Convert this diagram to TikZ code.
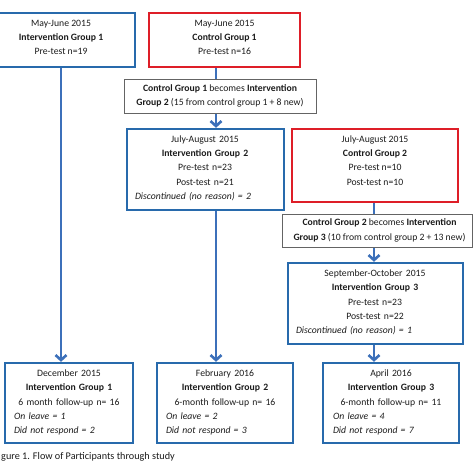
\documentclass[tikz,border=0pt]{standalone}
\usepackage{fontspec}
\setmainfont{Carlito}
\usetikzlibrary{arrows.meta}
\definecolor{bbox}{RGB}{40,106,172}
\definecolor{bline}{RGB}{60,112,186}
\definecolor{rbox}{RGB}{222,30,40}
\definecolor{gbox}{RGB}{100,100,100}
\definecolor{ink}{RGB}{28,28,28}
\newcommand{\lft}[1]{\makebox[\hsize][l]{\itshape #1}}
\begin{document}
\begin{tikzpicture}[x=1pt,y=-1pt,
  box/.style={rectangle, inner sep=0pt, fill=white},
  bluebox/.style={box, draw=bbox, line width=2.4pt},
  redbox/.style={box, draw=rbox, line width=2pt},
  graybox/.style={box, draw=gbox, line width=1pt},
  txt/.style={inner sep=0pt, align=center, text=ink, font=\fontsize{9.7}{14.3}\selectfont},
  flow/.style={draw=bline, line width=2.6pt},
  flowarrow/.style={flow, -{Straight Barb[length=5pt,width=11pt]}},
]
\useasboundingbox (0,0) rectangle (474,474);
\clip (0,0) rectangle (474,474);
\fill[white] (0,0) rectangle (474,474);
\coordinate (cA) at (216,0);
\coordinate (cB) at (374,0);

% boxes
\node[bluebox, minimum width=148pt, minimum height=54pt] (b1) at (61,40) {};
\node[redbox, minimum width=151pt, minimum height=54pt] (b2) at (224.5,40) {};
\node[graybox, minimum width=192pt, minimum height=34pt] (b3) at (220,96) {};
\node[bluebox, minimum width=157pt, minimum height=81pt] (b4) at (205.5,169.5) {};
\node[redbox, minimum width=166pt, minimum height=73pt] (b5) at (375,165.5) {};
\node[graybox, minimum width=190pt, minimum height=33pt] (b6) at (377,230.5) {};
\node[bluebox, minimum width=175pt, minimum height=81pt] (b7) at (375.5,303.5) {};
\node[bluebox, minimum width=128pt, minimum height=80pt] (d1) at (69,403) {};
\node[bluebox, minimum width=136pt, minimum height=80pt] (d2) at (225,403) {};
\node[bluebox, minimum width=136pt, minimum height=80pt] (d3) at (391,403) {};

% texts
\node[txt] (t1) at (61,37.5) {May-June 2015\\\textbf{Intervention Group 1}\\Pre-test n=19};
\node[txt] (t2) at (224.5,37.5) {May-June 2015\\\textbf{Control Group 1}\\Pre-test n=16};
\node[txt] (t3) at (220,96) {\textbf{Control Group 1} becomes \textbf{Intervention}\\\textbf{Group 2} (15 from control group 1 + 8 new)};
\node[txt, text width=140pt] (t4) at (205,168) {July-August 2015\\\textbf{Intervention Group 2}\\Pre-test n=23\\Post-test n=21\\\lft{Discontinued (no reason) = 2}};
\node[txt] (t5) at (375,160.5) {July-August 2015\\\textbf{Control Group 2}\\Pre-test n=10\\Post-test n=10};
\node[txt] (t6) at (379.5,230.5) {\textbf{Control Group 2} becomes \textbf{Intervention}\\\textbf{Group 3} (10 from control group 2 + 13 new)};
\node[txt, text width=158pt] (t7) at (375,302.5) {September-October 2015\\\textbf{Intervention Group 3}\\Pre-test n=23\\Post-test n=22\\\lft{Discontinued (no reason) = 1}};
\node[txt, text width=110pt] (e1) at (69,402.5) {December 2015\\\textbf{Intervention Group 1}\\6 month follow-up n= 16\\\lft{On leave = 1}\\\lft{Did not respond = 2}};
\node[txt, text width=118pt] (e2) at (225,402.5) {February 2016\\\textbf{Intervention Group 2}\\6-month follow-up n= 16\\\lft{On leave = 2}\\\lft{Did not respond = 3}};
\node[txt, text width=116pt] (e3) at (391,402.5) {April 2016\\\textbf{Intervention Group 3}\\6-month follow-up n= 11\\\lft{On leave = 4}\\\lft{Did not respond = 7}};
\node[txt, anchor=west, font=\fontsize{10.2}{12}\selectfont] (cap) at (1,457) {gure 1. Flow of Participants through study};

% connectors
\draw[flowarrow] (b1.south) -- (b1.south |- d1.north);
\draw[flow] (b2.south -| cA) -- (b3.north -| cA);
\draw[flowarrow] (b3.south -| cA) -- (b4.north -| cA);
\draw[flowarrow] (b4.south -| cA) -- (d2.north -| cA);
\draw[flow] (b5.south -| cB) -- (b6.north -| cB);
\draw[flowarrow] (b6.south -| cB) -- (b7.north -| cB);
\draw[flowarrow] (b7.south -| cB) -- (d3.north -| cB);
\end{tikzpicture}
\end{document}
